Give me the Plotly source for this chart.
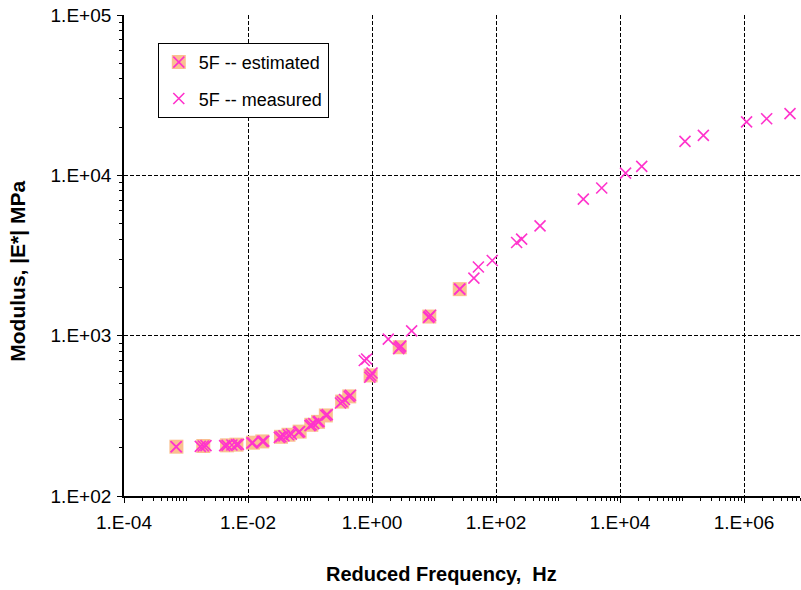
import numpy as np
import plotly.graph_objects as go

# Dynamic modulus master curve data, mix 5F
est_freq = [7.0e-4, 1.9e-3, 4.6e-3, 6.5e-3, 1.2e-2, 1.7e-2, 3.4e-2, 4.5e-2, 6.8e-2,
            0.105, 0.135, 0.18, 0.33, 0.43, 0.95, 2.8, 8.4, 26.0]
est_mod = [203, 205, 207, 209, 215, 219, 234, 241, 252,
           278, 290, 318, 388, 418, 565, 847, 1316, 1950]

meas_freq = [6.9e-4, 1.7e-3, 2.1e-3, 4.2e-3, 5.5e-3, 7.0e-3, 1.15e-2, 1.8e-2, 3.2e-2,
             3.8e-2, 5.0e-2, 6.5e-2, 0.10, 0.115, 0.14, 0.19, 0.31, 0.36, 0.45,
             0.92, 1.0, 0.75, 0.82, 1.83, 2.7, 2.9, 4.36, 8.2, 8.8, 26.0,
             44.0, 52.0, 87.0, 215.0, 259.0, 513.0, 2560.0, 5070.0, 12300.0, 22400.0,
             111700.0, 221000.0, 1.1e6, 2.32e6, 5.52e6]
meas_mod = [203, 204, 206, 206, 208, 210, 214, 220, 232,
            237, 243, 250, 275, 283, 292, 322, 380, 400, 425,
            550, 585, 700, 715, 951, 830, 860, 1071, 1300, 1340, 1950,
            2285, 2680, 2945, 3810, 4000, 4840, 7110, 8340, 10330, 11380,
            16300, 17760, 21530, 22550, 24270]

x_tickvals = [1e-4, 1e-2, 1e0, 1e2, 1e4, 1e6]
x_ticktext = ["1.E-04", "1.E-02", "1.E+00", "1.E+02", "1.E+04", "1.E+06"]
y_tickvals = [1e2, 1e3, 1e4, 1e5]
y_ticktext = ["1.E+02", "1.E+03", "1.E+04", "1.E+05"]

x_title = "<b>Reduced Frequency,  Hz</b>"
y_title = "<b>Modulus, |E*| MPa</b>"

PEACH = "#FAC090"
PINK = "#FF33CC"
FONT = "Liberation Sans, Arial, sans-serif"

fig = go.Figure()

# estimated points: peach square background
fig.add_trace(go.Scatter(
    x=est_freq, y=est_mod, mode="markers", name="5F -- estimated",
    legendgroup="est", legend="legend",
    marker=dict(symbol="square", size=14, color=PEACH, line=dict(width=0)),
))
# measured points
fig.add_trace(go.Scatter(
    x=meas_freq, y=meas_mod, mode="markers", name="5F -- measured",
    legendgroup="meas", legend="legend",
    marker=dict(symbol="x-thin", size=11, color=PINK, line=dict(width=1.6, color=PINK)),
))
# cross drawn over the estimated squares (its legend sits on top of the square swatch)
fig.add_trace(go.Scatter(
    x=est_freq, y=est_mod, mode="markers", name="5F -- estimated",
    legend="legend2",
    marker=dict(symbol="x-thin", size=11, color=PINK, line=dict(width=1.6, color=PINK)),
))

grid = dict(showgrid=True, gridcolor="black", gridwidth=1.1, griddash="4px,2px")
axis_common = dict(
    type="log",
    ticks="outside", ticklen=5, tickwidth=1, tickcolor="black",
    showline=True, linecolor="black", linewidth=1.8,
    minor=dict(ticks="outside", ticklen=3, tickcolor="black", dtick="D1", showgrid=False),
    zeroline=False,
    tickfont=dict(family=FONT, size=19, color="black"),
    **grid,
)

fig.update_xaxes(range=[-4, 6.903], tickvals=x_tickvals, ticktext=x_ticktext,
                 ticklabelstandoff=3, **axis_common)
fig.update_yaxes(range=[2, 5], tickvals=y_tickvals, ticktext=y_ticktext,
                 ticklabelstandoff=2, **axis_common)

# axis titles
fig.add_annotation(text=x_title, xref="paper", yref="paper", x=0.469, y=-0.162,
                   xanchor="center", yanchor="middle", showarrow=False,
                   font=dict(family=FONT, size=20, color="black"))
fig.add_annotation(text=y_title, xref="paper", yref="paper", x=-0.157, y=0.468,
                   xanchor="center", yanchor="middle", showarrow=False, textangle=-90,
                   font=dict(family=FONT, size=21, color="black"))

legend_common = dict(
    x=0.05, y=0.942, xanchor="left", yanchor="top",
    borderwidth=1, itemwidth=30, tracegroupgap=10,
)
fig.update_layout(
    width=801, height=590,
    margin=dict(l=124, r=1, t=15, b=94),
    paper_bgcolor="white", plot_bgcolor="white",
    font=dict(family=FONT, color="black"),
    legend=dict(bgcolor="white", bordercolor="black",
                font=dict(family=FONT, size=18, color="black"), **legend_common),
    legend2=dict(bgcolor="rgba(0,0,0,0)", bordercolor="rgba(0,0,0,0)",
                 font=dict(family=FONT, size=18, color="rgba(0,0,0,0)"), **legend_common),
)

fig.write_html("out.html")
